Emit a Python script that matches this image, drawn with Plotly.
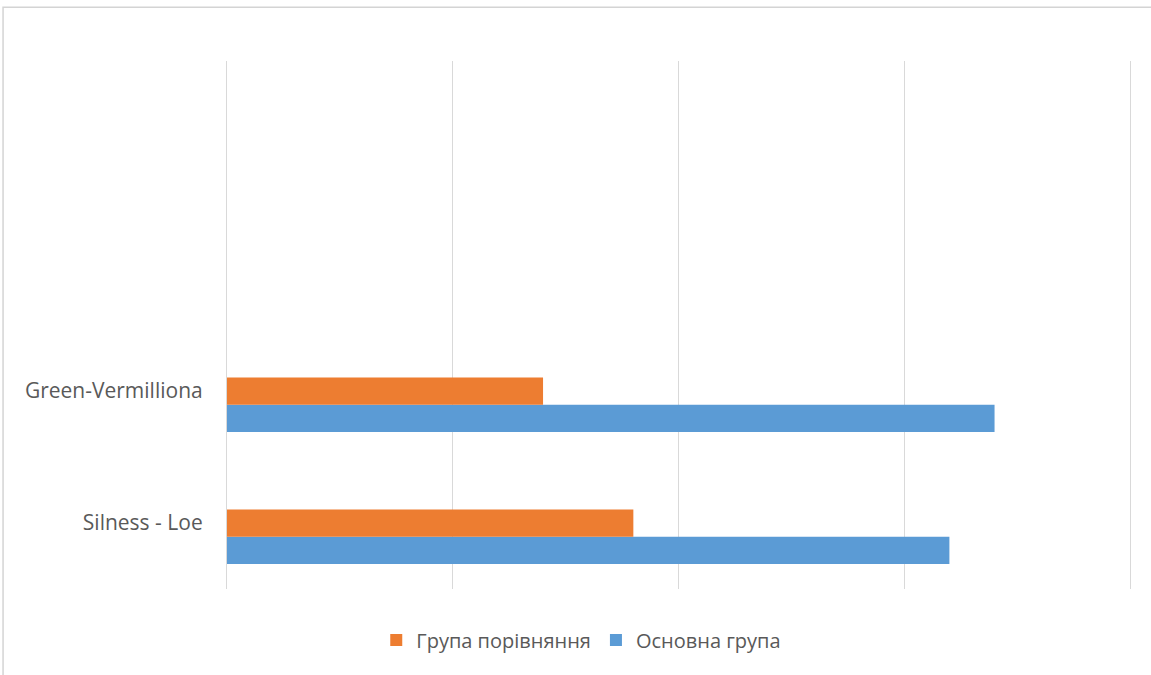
import plotly.graph_objects as go

# Data
categories = ["Silness - Loe", "Green-Vermilliona"]
slot_positions = [0, 1]          # bottom-up category slots (4 slots, top two empty)
comparison_group = [1.8, 1.4]    # Група порівняння
main_group = [3.2, 3.4]          # Основна група
x_ticks = [0, 1, 2, 3, 4]

ORANGE = "#ED7D31"
BLUE = "#5B9BD5"
GRID = "#d9d9d9"
TEXT = "#595959"
FONT = "Open Sans"

BAR_W = 0.207

fig = go.Figure()
fig.add_trace(go.Bar(
    name="Основна група", y=slot_positions, x=main_group, orientation="h",
    marker=dict(color=BLUE, line=dict(width=0)),
    width=BAR_W, offset=-0.311, legendrank=2,
))
fig.add_trace(go.Bar(
    name="Група порівняння", y=slot_positions, x=comparison_group, orientation="h",
    marker=dict(color=ORANGE, line=dict(width=0)),
    width=BAR_W, offset=-0.104, legendrank=1,
))

fig.update_layout(
    width=1151, height=675,
    margin=dict(l=227, r=21, t=61, b=86),
    paper_bgcolor="white", plot_bgcolor="white",
    barmode="overlay",
    font=dict(family=FONT, size=20, color=TEXT),
    showlegend=True,
    legend=dict(
        orientation="h", xref="container", yref="container",
        x=0.505, xanchor="center", y=0.052, yanchor="middle",
        font=dict(family=FONT, size=20, color=TEXT),
        traceorder="normal", itemwidth=30,
    ),
    xaxis=dict(
        range=[0, 4], tickvals=x_ticks, showticklabels=False,
        showgrid=True, gridcolor=GRID, gridwidth=1.2, zeroline=False,
        showline=False, fixedrange=True,
    ),
    yaxis=dict(
        range=[-0.5, 3.5], tickvals=slot_positions, ticktext=categories,
        showgrid=False, zeroline=False, showline=True, mirror=True,
        linecolor=GRID, linewidth=1.2,
        ticks="", ticklabelstandoff=19,
        tickfont=dict(family=FONT, size=21, color=TEXT),
    ),
    shapes=[dict(
        type="rect", xref="paper", yref="paper",
        x0=-0.248, x1=1.2, y0=-0.3, y1=1.102,
        line=dict(color="#d4d4d4", width=1.5), fillcolor="rgba(0,0,0,0)", layer="below",
    )],
)

fig.write_html("out.html")
